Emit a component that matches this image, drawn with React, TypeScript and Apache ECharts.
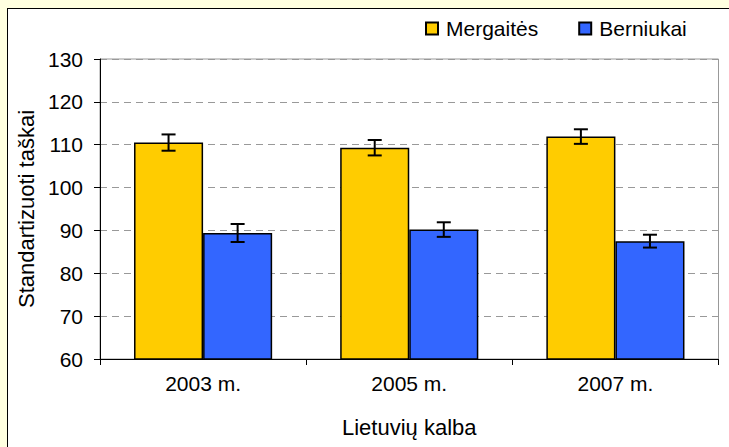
import React, { useEffect, useRef } from "react";
import * as echarts from "echarts";

const categories = ["2003 m.", "2005 m.", "2007 m."];
const mergaites = [110.5, 109.3, 111.9];
const mergaitesErr = [1.9, 1.8, 1.7];
const berniukai = [89.4, 90.2, 87.5];
const berniukaiErr = [2.1, 1.7, 1.5];
const seriesNames = ["Mergaitės", "Berniukai"];
const yAxisName = "Standartizuoti taškai";
const xAxisName = "Lietuvių kalba";

const FONT = "'Liberation Sans', Arial, sans-serif";
const CAT_GAP = 0.33;

function errorSeries(name: string, values: number[], errs: number[], sign: number) {
  return {
    type: "custom",
    name,
    z: 10,
    data: values.map((v, i) => [i, v - errs[i], v + errs[i]]),
    renderItem: (params: any, api: any) => {
      const cat = api.value(0);
      const lo = api.value(1);
      const hi = api.value(2);
      const pLo = api.coord([cat, lo]);
      const pHi = api.coord([cat, hi]);
      const catW = api.size([1, 0])[0];
      const barW = (catW * (1 - CAT_GAP)) / 2;
      const x = pLo[0] + (sign * barW) / 2;
      const half = 7;
      const style = { stroke: "#000", lineWidth: 2 };
      return {
        type: "group",
        children: [
          { type: "line", shape: { x1: x, y1: pHi[1], x2: x, y2: pLo[1] }, style },
          { type: "line", shape: { x1: x - half, y1: pHi[1], x2: x + half, y2: pHi[1] }, style },
          { type: "line", shape: { x1: x - half, y1: pLo[1], x2: x + half, y2: pLo[1] }, style },
        ],
      };
    },
  };
}

export default function App() {
  const ref = useRef<HTMLDivElement>(null);
  useEffect(() => {
    if (!ref.current) return;
    const chart = echarts.init(ref.current, null, { renderer: "svg" });
    chart.setOption({
      animation: false,
      textStyle: { fontFamily: FONT },
      legend: {
        data: seriesNames,
        left: 420,
        top: 13,
        itemWidth: 12,
        itemHeight: 12,
        itemGap: 40,
        icon: "rect",
        textStyle: { fontSize: 21, color: "#000", fontFamily: FONT, padding: [0, 0, 0, 3] },
      },
      grid: {
        left: 100,
        right: 10.5,
        top: 59,
        bottom: 88,
        show: true,
        borderColor: "#999",
        borderWidth: 1,
        backgroundColor: "transparent",
      },
      xAxis: {
        type: "category",
        data: categories,
        name: xAxisName,
        nameLocation: "middle",
        nameGap: 57,
        nameTextStyle: { fontSize: 22, color: "#000", fontFamily: FONT },
        axisLine: { lineStyle: { color: "#000", width: 1 } },
        axisTick: { show: true, length: 6, lineStyle: { color: "#000" } },
        axisLabel: { fontSize: 21, color: "#000", margin: 14, fontFamily: FONT },
        splitLine: { show: false },
      },
      yAxis: {
        type: "value",
        min: 60,
        max: 130,
        interval: 10,
        name: yAxisName,
        nameLocation: "middle",
        nameRotate: 90,
        nameGap: 63,
        nameTextStyle: { fontSize: 22, color: "#000", fontFamily: FONT },
        axisLine: { show: true, lineStyle: { color: "#000", width: 1 } },
        axisTick: { show: true, length: 6, lineStyle: { color: "#000" } },
        axisLabel: { fontSize: 21, color: "#000", margin: 17, fontFamily: FONT },
        splitLine: { show: true, lineStyle: { color: "#999", type: [7, 5], width: 1 } },
      },
      series: [
        {
          type: "bar",
          name: seriesNames[0],
          data: mergaites,
          barGap: "0%",
          barCategoryGap: "33%",
          itemStyle: { color: "#FFCC00", borderColor: "#000", borderWidth: 1.5 },
        },
        {
          type: "bar",
          name: seriesNames[1],
          data: berniukai,
          barGap: "0%",
          barCategoryGap: "33%",
          itemStyle: { color: "#3366FF", borderColor: "#000", borderWidth: 1.5 },
        },
        errorSeries("errM", mergaites, mergaitesErr, -1),
        errorSeries("errB", berniukai, berniukaiErr, 1),
      ],
    });
    return () => chart.dispose();
  }, []);

  return (
    <div style={{ position: "fixed", left: 0, top: 0, width: 729, height: 447, background: "#FFFFE0", overflow: "hidden" }}>
      <div
        style={{
          position: "absolute",
          left: 7,
          top: 8,
          width: 740,
          height: 460,
          background: "#fff",
          borderLeft: "1.5px solid #000",
          borderTop: "1.5px solid #000",
        }}
      />
      <div ref={ref} style={{ position: "absolute", left: 0, top: 0, width: 729, height: 447 }} />
    </div>
  );
}
